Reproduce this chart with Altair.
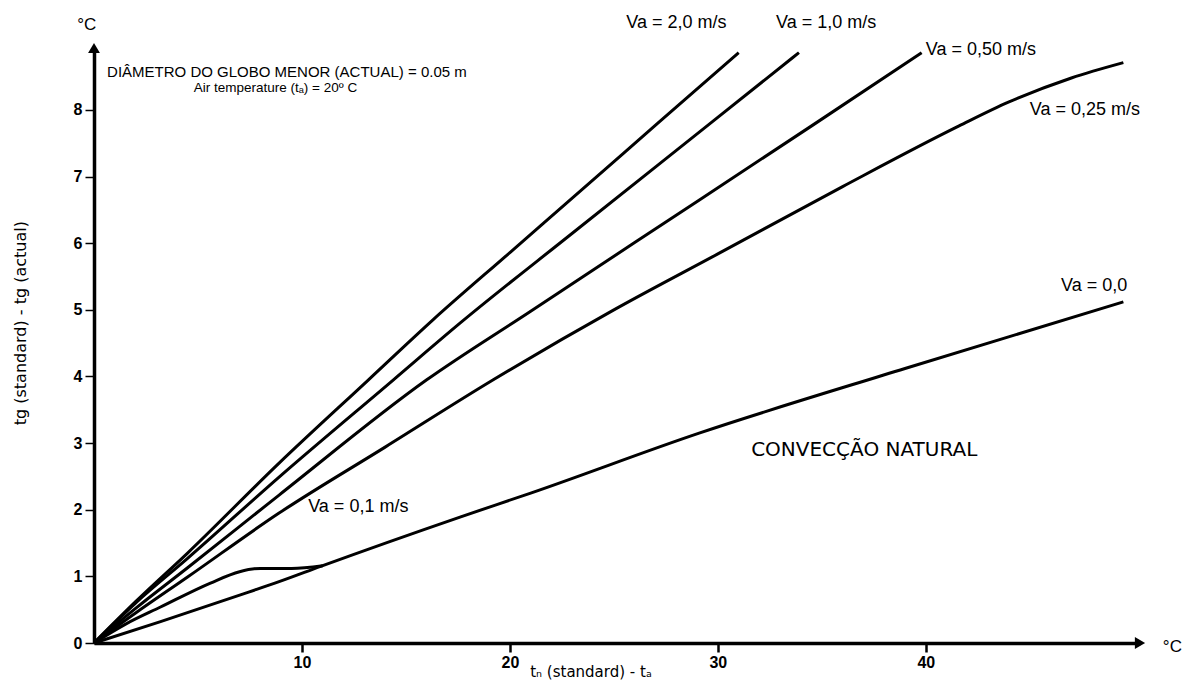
import altair as alt
import pandas as pd

# ---- data ----
series_names = ["Va = 2,0 m/s", "Va = 1,0 m/s", "Va = 0,50 m/s",
                "Va = 0,25 m/s", "Va = 0,1 m/s", "Va = 0,0"]

va20_x = [0, 2, 4.5, 8.9, 13.2, 16.3, 20, 24, 27.1, 31.0]
va20_y = [0, 0.62, 1.35, 2.70, 3.95, 4.85, 5.86, 6.95, 7.8, 8.86]

va10_x = [0, 2, 4.5, 8.9, 14.4, 17.6, 23, 29.8, 33.9]
va10_y = [0, 0.6, 1.27, 2.49, 3.95, 4.80, 6.15, 7.84, 8.86]

va05_x = [0, 2, 4.5, 8.9, 16.0, 21, 26, 34.6, 39.8]
va05_y = [0, 0.52, 1.13, 2.22, 3.95, 4.98, 6.01, 7.78, 8.86]

va025_x = [0, 2, 4.5, 8.9, 14, 19.2, 25, 30, 36, 41.6, 44, 47, 49.5]
va025_y = [0, 0.45, 0.99, 1.95, 2.94, 3.95, 5.0, 5.84, 6.85, 7.76, 8.12, 8.48, 8.71]

va01_x = [0, 1.5, 3.2, 5.6, 7.0, 8.0, 9.5, 11.0]
va01_y = [0, 0.28, 0.54, 0.9, 1.07, 1.12, 1.12, 1.16]

va00_x = [0, 3.2, 7.4, 8.9, 10.9, 17.6, 21, 29.1, 39, 49.5]
va00_y = [0, 0.32, 0.76, 0.92, 1.15, 1.89, 2.25, 3.15, 4.12, 5.12]

x_ticks = [10, 20, 30, 40]
y_ticks = [0, 1, 2, 3, 4, 5, 6, 7, 8]
x_max = 50.3
y_max = 8.93

rows = []
for name, xs_, ys_ in zip(series_names,
                          [va20_x, va10_x, va05_x, va025_x, va01_x, va00_x],
                          [va20_y, va10_y, va05_y, va025_y, va01_y, va00_y]):
    for i, (a, b) in enumerate(zip(xs_, ys_)):
        rows.append({"series": name, "x": a, "y": b, "order": i})
df = pd.DataFrame(rows)

# annotation texts (data coordinates)
ann_text = ["Va = 2,0 m/s", "Va = 1,0 m/s", "Va = 0,50 m/s", "Va = 0,25 m/s",
            "Va = 0,0", "Va = 0,1 m/s"]
ann_x = [25.6, 32.8, 40.0, 45.0, 46.5, 10.3]
ann_y = [9.3, 9.3, 8.9, 8.0, 5.36, 2.04]
ann = pd.DataFrame({"text": ann_text, "x": ann_x, "y": ann_y})

xs = alt.Scale(domain=[0, x_max], nice=False, zero=False)
ys = alt.Scale(domain=[0, y_max], nice=False, zero=False)

base_font = "Liberation Sans"
wide_font = "DejaVu Sans"


def txt(df_, font, size, align="left", angle=0):
    kw = dict(align=align, baseline="middle", font=font, fontSize=size, color="black")
    if angle:
        kw["angle"] = angle
    return alt.Chart(df_).mark_text(**kw).encode(
        x=alt.X("x:Q", scale=xs), y=alt.Y("y:Q", scale=ys), text="t:N")


lines = alt.Chart(df).mark_line(
    color="black", strokeWidth=3, interpolate="monotone", clip=False
).encode(
    x=alt.X("x:Q", scale=xs,
            axis=alt.Axis(values=x_ticks, title=None, grid=False, format="d",
                          domainColor="black", domainWidth=3.5,
                          tickColor="black", tickWidth=2.5, tickSize=9,
                          labelFont=base_font, labelFontSize=16,
                          labelFontWeight="bold", labelColor="black",
                          labelPadding=2)),
    y=alt.Y("y:Q", scale=ys,
            axis=alt.Axis(values=y_ticks, title=None, grid=False, format="d",
                          domainColor="black", domainWidth=3.5,
                          tickColor="black", tickWidth=1.5, tickSize=9,
                          labelFont=base_font, labelFontSize=16,
                          labelFontWeight="bold", labelColor="black",
                          labelPadding=3)),
    detail="series:N",
    order="order:Q",
)

labels = alt.Chart(ann).mark_text(
    align="left", baseline="middle", font=base_font, fontSize=18, color="black"
).encode(x=alt.X("x:Q", scale=xs), y=alt.Y("y:Q", scale=ys), text="text:N")

conv = txt(pd.DataFrame({"t": ["CONVECÇÃO NATURAL"], "x": [31.6], "y": [2.9]}), wide_font, 20)
title1 = txt(pd.DataFrame({"t": ["DIÂMETRO DO GLOBO MENOR (ACTUAL) = 0.05 m"], "x": [0.63], "y": [8.57]}), base_font, 15)
title2 = txt(pd.DataFrame({"t": ["Air temperature (tₐ) = 20º C"], "x": [4.8], "y": [8.33]}), base_font, 13.5)
unit_y = txt(pd.DataFrame({"t": ["°C"], "x": [-0.35], "y": [9.28]}), base_font, 17, align="center")
unit_x = txt(pd.DataFrame({"t": ["°C"], "x": [51.4], "y": [-0.06]}), base_font, 17)
xtitle = txt(pd.DataFrame({"t": ["tₙ (standard) - tₐ"], "x": [23.9], "y": [-0.44]}), wide_font, 15, align="center")
ytitle = txt(pd.DataFrame({"t": ["tg (standard) - tg (actual)"], "x": [-3.5], "y": [4.8]}), wide_font, 16, align="center", angle=270)

arrow_x = alt.Chart(pd.DataFrame({"x": [x_max], "y": [0]})).mark_point(
    shape="triangle-right", filled=True, color="black", size=140, opacity=1
).encode(x=alt.X("x:Q", scale=xs), y=alt.Y("y:Q", scale=ys))

arrow_y = alt.Chart(pd.DataFrame({"x": [0], "y": [y_max]})).mark_point(
    shape="triangle-up", filled=True, color="black", size=140, opacity=1
).encode(x=alt.X("x:Q", scale=xs), y=alt.Y("y:Q", scale=ys))

chart = alt.layer(
    lines, labels, conv, title1, title2, unit_y, unit_x, xtitle, ytitle, arrow_x, arrow_y
).properties(
    width=1046, height=595,
    autosize=alt.AutoSizeParams(type="none"),
    padding={"left": 86, "top": 40, "right": 45, "bottom": 38},
    background="white",
).configure_view(stroke=None)

chart.save("out.html", embed_options={"renderer": "svg", "actions": False})
